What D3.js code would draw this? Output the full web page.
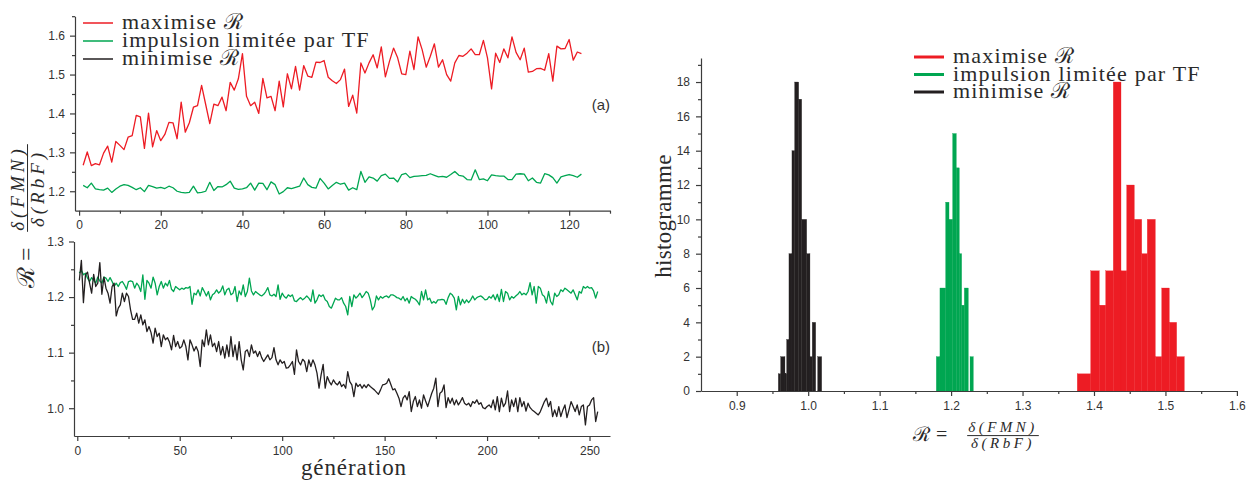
<!DOCTYPE html>
<html><head><meta charset="utf-8">
<script src="https://cdn.jsdelivr.net/npm/d3@7"></script>
<style>body{margin:0;background:#fff} svg{display:block}</style>
</head><body><svg id="c" width="1254" height="482"></svg>
<script>
// ---------- DATA ----------
const legendLabels = ["maximise \u211B", "impulsion limitée par TF", "minimise \u211B"];
const panelTags = ["(a)", "(b)"];

// panel (a): generations 1..123
const redA = [1.267,1.301,1.266,1.271,1.268,1.298,1.316,1.275,1.328,1.318,
1.307,1.339,1.343,1.395,1.391,1.310,1.401,1.314,1.356,1.330,
1.346,1.377,1.376,1.335,1.429,1.352,1.376,1.416,1.420,1.472,
1.423,1.374,1.424,1.420,1.442,1.407,1.480,1.460,1.489,1.554,
1.444,1.420,1.429,1.400,1.490,1.440,1.444,1.407,1.483,1.417,
1.502,1.463,1.521,1.460,1.523,1.496,1.493,1.532,1.531,1.536,
1.493,1.484,1.477,1.487,1.514,1.418,1.447,1.401,1.530,1.504,
1.530,1.551,1.517,1.571,1.494,1.534,1.568,1.543,1.502,1.500,
1.560,1.513,1.597,1.564,1.519,1.547,1.579,1.519,1.538,1.500,
1.483,1.530,1.549,1.547,1.555,1.566,1.551,1.551,1.588,1.543,
1.463,1.555,1.531,1.566,1.543,1.597,1.557,1.538,1.568,1.506,
1.508,1.515,1.516,1.511,1.554,1.483,1.573,1.566,1.567,1.590,
1.537,1.558,1.554];
const greenA = [1.215,1.209,1.221,1.206,1.204,1.203,1.208,1.197,1.206,1.213,
1.217,1.215,1.210,1.204,1.209,1.199,1.215,1.212,1.208,1.210,
1.207,1.213,1.209,1.200,1.197,1.196,1.197,1.213,1.196,1.197,
1.200,1.223,1.202,1.212,1.211,1.217,1.226,1.208,1.205,1.206,
1.209,1.221,1.203,1.221,1.220,1.204,1.224,1.217,1.193,1.199,
1.209,1.207,1.210,1.213,1.234,1.217,1.210,1.208,1.233,1.221,
1.206,1.215,1.223,1.218,1.221,1.203,1.209,1.204,1.251,1.223,
1.237,1.234,1.226,1.240,1.244,1.233,1.234,1.224,1.243,1.246,
1.235,1.238,1.239,1.240,1.241,1.245,1.241,1.237,1.238,1.236,
1.243,1.251,1.241,1.239,1.230,1.229,1.255,1.230,1.232,1.227,
1.242,1.240,1.239,1.239,1.230,1.230,1.244,1.245,1.244,1.227,
1.234,1.223,1.221,1.245,1.242,1.235,1.221,1.237,1.240,1.243,
1.240,1.236,1.244];

// panel (b): generations 1..254
const greenB = [1.243,1.248,1.240,1.243,1.234,1.228,1.235,1.230,1.225,1.236,
1.229,1.225,1.236,1.234,1.228,1.235,1.228,1.219,1.225,1.219,
1.226,1.228,1.222,1.214,1.228,1.229,1.228,1.216,1.225,1.220,
1.210,1.240,1.196,1.230,1.225,1.216,1.236,1.225,1.204,1.219,
1.228,1.216,1.225,1.220,1.230,1.214,1.210,1.219,1.216,1.213,
1.216,1.214,1.217,1.216,1.219,1.187,1.207,1.204,1.213,1.202,
1.217,1.210,1.202,1.210,1.195,1.204,1.207,1.213,1.207,1.211,
1.220,1.204,1.213,1.216,1.204,1.207,1.219,1.192,1.211,1.204,
1.222,1.201,1.210,1.234,1.211,1.204,1.210,1.207,1.204,1.202,
1.205,1.210,1.217,1.204,1.202,1.205,1.201,1.222,1.196,1.207,
1.201,1.198,1.204,1.201,1.204,1.193,1.192,
1.196,1.199,1.195,1.198,1.202,1.198,1.192,1.213,1.189,1.195,
1.204,1.201,1.204,1.195,1.192,1.183,1.180,1.189,1.198,1.195,
1.195,1.199,1.189,1.183,1.168,1.201,1.183,1.204,1.198,1.202,
1.207,1.199,1.204,1.210,1.207,1.195,1.177,1.183,1.202,1.195,
1.201,1.198,1.201,1.202,1.199,1.204,1.204,1.202,1.199,
1.198,1.195,1.201,1.193,1.198,1.189,1.201,1.198,1.196,1.192,
1.186,1.210,1.195,1.213,1.195,1.198,1.189,1.192,1.189,1.195,
1.195,1.196,1.195,1.187,1.199,1.207,1.204,1.198,1.177,1.201,
1.186,1.196,1.189,1.195,1.190,1.195,1.202,1.195,1.199,1.201,
1.202,1.199,1.195,1.196,1.201,1.198,1.204,1.195,1.205,
1.192,1.214,1.192,1.210,1.207,1.195,1.201,1.198,1.202,1.205,
1.210,1.204,1.207,1.204,1.210,1.226,1.204,1.219,1.189,1.219,
1.216,1.204,1.201,1.189,1.210,1.192,1.186,1.207,1.201,1.204,
1.213,1.210,1.216,1.213,1.210,1.207,1.213,1.204,1.195,1.210,
1.207,1.219,1.216,1.219,1.216,1.217,1.211,1.198,1.210];
const blackB = [1.230,1.266,1.190,1.240,1.245,1.225,1.207,1.241,1.219,1.225,
1.262,1.205,1.236,1.216,1.207,1.189,1.219,1.225,1.166,1.180,
1.186,1.207,1.192,1.207,1.201,1.177,1.160,1.160,1.171,1.153,
1.168,1.150,1.159,1.138,1.147,1.136,1.117,1.144,1.129,1.135,
1.111,1.132,1.123,1.127,1.119,1.105,1.131,1.111,1.120,1.108,
1.111,1.123,1.111,1.087,1.123,1.114,1.103,1.111,1.102,1.075,
1.123,1.111,1.141,1.114,1.132,1.111,1.117,1.102,1.120,1.096,
1.111,1.090,1.114,1.093,1.129,1.093,1.114,1.087,1.120,1.087,
1.069,1.102,1.105,1.093,1.114,1.099,1.103,1.093,1.102,1.091,
1.084,1.090,1.096,1.087,1.091,1.109,1.087,1.078,1.087,1.081,
1.084,1.072,1.073,1.078,1.084,1.061,1.105,
1.084,1.078,1.088,1.084,1.066,1.087,1.075,1.087,1.078,1.063,
1.036,1.060,1.079,1.036,1.057,1.048,1.042,1.051,1.045,1.042,
1.048,1.039,1.043,1.036,1.066,1.048,1.042,1.021,1.045,1.039,
1.043,1.036,1.042,1.037,1.043,1.039,1.036,1.033,1.029,1.025,
1.033,1.042,1.043,1.045,1.053,1.043,1.033,1.035,1.027,1.018,
1.003,1.018,1.023,1.015,1.030,0.994,1.012,1.021,1.003,1.015,
1.000,1.024,1.013,1.003,1.015,1.027,1.036,1.054,1.003,1.027,
1.030,1.042,1.001,1.019,1.009,1.018,1.006,1.015,1.006,1.012,
1.019,1.009,1.006,1.009,1.003,1.012,1.009,1.015,1.007,1.010,
1.001,0.999,
1.003,1.006,1.001,1.015,0.997,1.021,0.994,1.018,1.003,1.009,
1.031,0.994,1.015,1.003,1.018,0.994,1.019,1.003,1.012,0.995,
1.009,1.001,0.997,0.994,0.991,0.988,0.994,1.003,1.012,1.018,
1.003,1.012,0.985,0.997,0.985,1.003,0.985,0.997,1.006,0.983,
0.997,1.012,1.003,
0.994,1.006,0.988,1.003,1.006,0.970,1.003,1.006,1.015,1.019,0.976,0.994];

// histogram bins (edges in R units, counts)
const redEdges = [1.3766,1.3954,1.4074,1.4164,1.4270,1.4378,1.4458,1.4564,1.4668,1.4746,1.4858,1.4948,1.5054,1.5157,1.5264];
const redCounts = [1,7,5,7,18,7,12,10,8,10,2,6,4,2];
const greenEdges = [1.1793,1.1844,1.1924,1.1971,1.2022,1.2073,1.2115,1.2148,1.2185,1.2241,1.2265,1.2311];
const greenCounts = [2,6,11,10,15,13,8,5,6,0,2];
const blackEdges = [0.9582,0.9615,0.9675,0.9699,0.9731,0.9773,0.9811,0.9867,0.9909,0.9979,1.0025,1.0057,1.0105,1.0133,1.0189];
const blackCounts = [1,2,1,3,8,14,18,17,10,8,2,4,0,2];

// ticks
const ticksAx = [0,20,40,60,80,100,120], minorAx = [10,30,50,70,90,110,130];
const ticksAy = [1.2,1.3,1.4,1.5,1.6], minorAy = [1.25,1.35,1.45,1.55,1.65];
const ticksBx = [0,50,100,150,200,250], minorBx = [25,75,125,175,225];
const ticksBy = [1.0,1.1,1.2,1.3], minorBy = [1.05,1.15,1.25];
const ticksHx = [0.9,1.0,1.1,1.2,1.3,1.4,1.5,1.6], minorHx = [0.95,1.05,1.15,1.25,1.35,1.45,1.55];
const ticksHy = [0,2,4,6,8,10,12,14,16,18], minorHy = [1,3,5,7,9,11,13,15,17,19];

// ---------- DRAW ----------
const svg = d3.select('#c');
const COL = {red:'#ed1c24', green:'#00a651', black:'#231f20'};
const AX = '#3c3c3c';
const SERIF = "'Liberation Serif','Times New Roman','DejaVu Serif',serif";
const SANS = "'Liberation Sans',Arial,sans-serif";
const TXT = '#2a2a2a';

function styleAxis(g){
  g.selectAll('path,line').attr('stroke',AX).attr('stroke-width',1.2);
  g.selectAll('text').attr('fill','#333').style('font-family',SANS).style('font-size','12px');
}
function axes(x, y, tx, mtx, ty, mty, fmtX, fmtY, pad){
  const yb = y.range()[0], xl = x.range()[0];
  const gx = svg.append('g').attr('transform',`translate(0,${yb})`)
    .call(d3.axisBottom(x).tickValues(tx).tickFormat(fmtX).tickSize(5).tickSizeOuter(0).tickPadding(5));
  styleAxis(gx);
  const gxm = svg.append('g').attr('transform',`translate(0,${yb})`)
    .call(d3.axisBottom(x).tickValues(mtx).tickFormat('').tickSize(3).tickSizeOuter(0));
  styleAxis(gxm); gxm.select('path').remove();
  const gy = svg.append('g').attr('transform',`translate(${xl},0)`)
    .call(d3.axisLeft(y).tickValues(ty).tickFormat(fmtY).tickSize(5).tickSizeOuter(0).tickPadding(pad||5));
  styleAxis(gy);
  const gym = svg.append('g').attr('transform',`translate(${xl},0)`)
    .call(d3.axisLeft(y).tickValues(mty).tickFormat('').tickSize(3).tickSizeOuter(0));
  styleAxis(gym); gym.select('path').remove();
}
function series(x, y, data, color){
  svg.append('path').datum(data).attr('fill','none').attr('stroke',color)
    .attr('stroke-width',1.3).attr('stroke-linejoin','round')
    .attr('d', d3.line().x((d,i)=>x(i+1)).y(d=>y(d)));
}

// Panel (a)
const xA = d3.scaleLinear().domain([-1,130]).range([75,610]);
const yA = d3.scaleLinear().domain([1.15,1.65]).range([210.7,16.2]);
axes(xA,yA,ticksAx,minorAx,ticksAy,minorAy,d3.format('d'),d3.format('.1f'));
series(xA,yA,redA,COL.red);
series(xA,yA,greenA,COL.green);

// Panel (b)
const xB = d3.scaleLinear().domain([-1.6,260]).range([74,610]);
const yB = d3.scaleLinear().domain([0.95,1.3]).range([436,241.5]);
axes(xB,yB,ticksBx,minorBx,ticksBy,minorBy,d3.format('d'),d3.format('.1f'));
series(xB,yB,greenB,COL.green);
series(xB,yB,blackB,COL.black);

svg.append('text').attr('x',610).attr('y',110).attr('text-anchor','end')
  .style('font-family',SANS).style('font-size','15px').attr('fill','#333').text(panelTags[0]);
svg.append('text').attr('x',610).attr('y',352).attr('text-anchor','end')
  .style('font-family',SANS).style('font-size','15px').attr('fill','#333').text(panelTags[1]);

// legends
const legColors = [COL.red, COL.green, COL.black];
function legend(x0, ys, lw){
  const g = svg.append('g');
  ys.forEach((yy,i)=>{
    g.append('line').attr('x1',x0).attr('x2',x0+30).attr('y1',yy).attr('y2',yy)
      .attr('stroke',legColors[i]).attr('stroke-width',lw);
    g.append('text').attr('x',x0+39).attr('y',yy+6).style('font-family',SERIF)
      .style('font-size','22px').style('letter-spacing','1.2px').attr('fill',TXT).text(legendLabels[i]);
  });
}
legend(83,[23,41,59],1.5);

// x label left
svg.append('text').attr('x',354).attr('y',475).attr('text-anchor','middle')
  .style('font-family',SERIF).style('font-size','23px').style('letter-spacing','0.9px')
  .attr('fill',TXT).text('génération');

// ratio label helper
function ratioLabel(g, rSize, fSize, fracCx, ls, eqX){
  g.append('text').attr('x',0).attr('y',0).style('font-family',SERIF).style('font-size',rSize+'px')
    .attr('fill',TXT).text('\u211B');
  g.append('text').attr('x',eqX).attr('y',0).style('font-family',SERIF).style('font-size',rSize+'px')
    .attr('fill',TXT).text('=');
  const lineY = -rSize*0.27;
  const n = g.append('text').attr('x',fracCx).attr('y',lineY-4).attr('text-anchor','middle')
    .style('font-family',SERIF).style('font-style','italic').style('font-size',fSize+'px')
    .style('letter-spacing',ls+'px').attr('fill',TXT).text('\u03B4(FMN)');
  g.append('text').attr('x',fracCx).attr('y',lineY+fSize*0.85).attr('text-anchor','middle')
    .style('font-family',SERIF).style('font-style','italic').style('font-size',fSize+'px')
    .style('letter-spacing',ls+'px').attr('fill',TXT).text('\u03B4(RbF)');
  const w = n.node().getComputedTextLength();
  g.append('line').attr('x1',fracCx-w/2-1).attr('x2',fracCx+w/2+1).attr('y1',lineY).attr('y2',lineY)
    .attr('stroke',TXT).attr('stroke-width',1);
}
ratioLabel(svg.append('g').attr('transform','translate(34,288) rotate(-90)'), 24, 19, 100, 4, 27);
ratioLabel(svg.append('g').attr('transform','translate(913,441)'), 20, 15, 90, 3.5, 23);

// Histogram
const xH = d3.scaleLinear().domain([0.85,1.6]).range([701,1236.9]);
const yH = d3.scaleLinear().domain([0,19.4]).range([391,58]);
function hist(edges, counts, color){
  svg.append('g').selectAll('rect').data(counts).join('rect')
    .attr('x',(d,i)=>xH(edges[i])).attr('width',(d,i)=>xH(edges[i+1])-xH(edges[i]))
    .attr('y',d=>yH(d)).attr('height',d=>yH(0)-yH(d)).attr('fill',color)
    .attr('stroke',color).attr('stroke-width',0.3);
}
hist(blackEdges,blackCounts,COL.black);
hist(greenEdges,greenCounts,COL.green);
hist(redEdges,redCounts,COL.red);
axes(xH,yH,ticksHx,minorHx,ticksHy,minorHy,d3.format('.1f'),d3.format('d'),6);

svg.append('text').attr('transform','translate(671,216) rotate(-90)').attr('text-anchor','middle')
  .style('font-family',SERIF).style('font-size','23px').style('letter-spacing','0.3px')
  .attr('fill',TXT).text('histogramme');

legend(914,[57,74.5,92],3);
</script></body></html>
